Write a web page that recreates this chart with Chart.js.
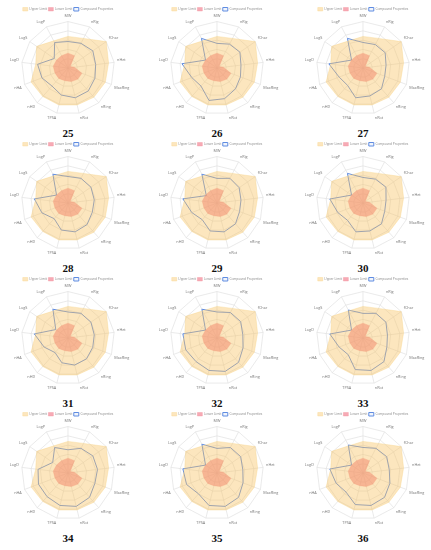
<!DOCTYPE html>
<html>
<head>
<meta charset="utf-8">
<script src="https://cdn.jsdelivr.net/npm/chart.js@4/dist/chart.umd.min.js"></script>
<style>
  body { margin: 0; background: #fff; width: 431px; height: 550px; position: relative; overflow: hidden; }
  .cell { position: absolute; width: 140px; height: 135px; }
  .cell canvas { position: absolute; left: 0; top: 0; }
  .num { position: absolute; left: 0; width: 140px; top: 127px; text-align: center;
         font-family: 'Liberation Serif', 'DejaVu Serif', serif; font-weight: bold; font-size: 11px; color: #111; }
</style>
</head>
<body>
<script>
'use-strict'

const axisLabels = ['MW', 'nRig', 'fChar', 'nHet', 'MaxRing', 'nRing', 'nRot', 'TPSA', 'nHD', 'nHA', 'LogD', 'LogS', 'LogP']

const upperLimit = [0.68, 0.72, 1.0, 0.88, 0.86, 0.84, 0.82, 0.82, 0.82, 0.85, 0.7, 0.82, 0.66]
const lowerLimit = [0.32, 0.3, 0.06, 0.14, 0.32, 0.32, 0.3, 0.28, 0.3, 0.3, 0.32, 0.3, 0.3]

const compoundIds = ['25', '26', '27', '28', '29', '30', '31', '32', '33', '34', '35', '36']

const compound25 = [0.57, 0.6, 0.65, 0.6, 0.62, 0.66, 0.66, 0.6, 0.52, 0.6, 0.66, 0.36, 0.62]
const compound26 = [0.53, 0.58, 0.6, 0.52, 0.54, 0.6, 0.68, 0.72, 0.52, 0.58, 0.76, 0.3, 0.72]
const compound27 = [0.55, 0.57, 0.58, 0.5, 0.5, 0.6, 0.62, 0.66, 0.5, 0.55, 0.74, 0.3, 0.72]
const compound28 = [0.57, 0.6, 0.6, 0.57, 0.56, 0.62, 0.64, 0.6, 0.45, 0.6, 0.73, 0.3, 0.7]
const compound29 = [0.53, 0.6, 0.58, 0.52, 0.52, 0.6, 0.64, 0.62, 0.48, 0.58, 0.74, 0.28, 0.7]
const compound30 = [0.55, 0.58, 0.6, 0.5, 0.5, 0.6, 0.62, 0.64, 0.5, 0.58, 0.72, 0.3, 0.72]
const compound31 = [0.56, 0.6, 0.6, 0.57, 0.57, 0.6, 0.6, 0.55, 0.42, 0.55, 0.73, 0.32, 0.7]
const compound32 = [0.56, 0.62, 0.62, 0.56, 0.6, 0.7, 0.74, 0.72, 0.68, 0.72, 0.74, 0.3, 0.7]
const compound33 = [0.53, 0.6, 0.6, 0.53, 0.55, 0.68, 0.72, 0.7, 0.48, 0.55, 0.72, 0.3, 0.68]
const compound34 = [0.5, 0.6, 0.65, 0.64, 0.62, 0.7, 0.74, 0.72, 0.68, 0.68, 0.65, 0.4, 0.62]
const compound35 = [0.53, 0.62, 0.62, 0.56, 0.6, 0.7, 0.74, 0.72, 0.6, 0.7, 0.74, 0.3, 0.7]
const compound36 = [0.55, 0.6, 0.62, 0.57, 0.62, 0.7, 0.72, 0.7, 0.55, 0.62, 0.72, 0.3, 0.68]

const compounds = [compound25, compound26, compound27, compound28, compound29, compound30,
    compound31, compound32, compound33, compound34, compound35, compound36]

Chart.defaults.font.family = "'Open Sans', sans-serif"

const colLeft = [-2, 147, 293]
const rowTop = [0, 135, 270, 405]

const makeChart = (values, id, i) => {
    const cell = document.createElement('div')
    cell.className = 'cell'
    cell.style.left = colLeft[i % 3] + 'px'
    cell.style.top = rowTop[Math.floor(i / 3)] + 'px'

    const canvas = document.createElement('canvas')
    canvas.width = 140
    canvas.height = 122
    cell.appendChild(canvas)

    const num = document.createElement('div')
    num.className = 'num'
    num.textContent = id
    cell.appendChild(num)
    document.body.appendChild(cell)

    new Chart(canvas.getContext('2d'), {
        type: 'radar',
        data: {
            labels: axisLabels,
            datasets: [{
                label: 'Upper Limit',
                data: upperLimit,
                backgroundColor: 'rgba(247, 195, 100, 0.42)',
                borderColor: 'rgba(245, 210, 130, 0.7)',
                borderWidth: 0.5,
                pointRadius: 0,
                fill: true
            }, {
                label: 'Lower Limit',
                data: lowerLimit,
                backgroundColor: 'rgba(238, 100, 120, 0.55)',
                borderColor: 'rgba(240, 140, 150, 0.7)',
                borderWidth: 0.5,
                pointRadius: 0,
                fill: true
            }, {
                label: 'Compound Properties',
                data: values,
                backgroundColor: 'rgba(140, 170, 230, 0.12)',
                borderColor: 'rgb(95, 140, 225)',
                borderWidth: 1,
                pointRadius: 0,
                fill: false
            }]
        },
        options: {
            responsive: false,
            animation: false,
            layout: { padding: { top: 6, bottom: 0, left: 0, right: 0 } },
            plugins: {
                legend: {
                    maxHeight: 7,
                    labels: {
                        boxWidth: 5,
                        boxHeight: 3.5,
                        padding: 1.5,
                        color: '#888',
                        font: { size: 3.2 }
                    }
                },
                tooltip: { enabled: false }
            },
            scales: {
                r: {
                    min: 0,
                    max: 1,
                    ticks: { display: false, stepSize: 0.2 },
                    grid: { color: '#dcdcdc', lineWidth: 0.6 },
                    angleLines: { color: '#dcdcdc', lineWidth: 0.6 },
                    pointLabels: { color: '#777', padding: 3, font: { size: 3.8 } }
                }
            }
        }
    })
}

compounds.forEach((values, i) => makeChart(values, compoundIds[i], i))
</script>
</body>
</html>
